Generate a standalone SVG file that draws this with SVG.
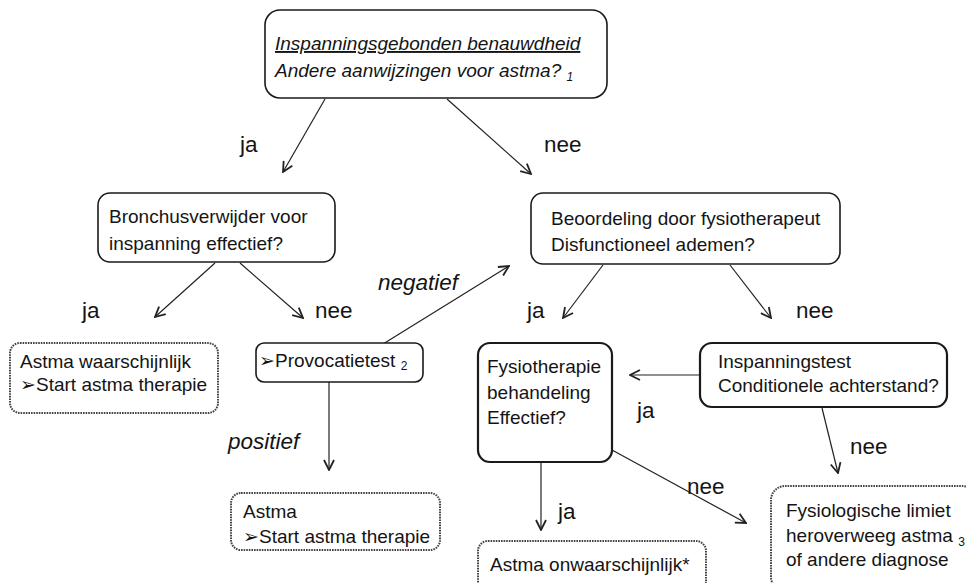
<svg xmlns="http://www.w3.org/2000/svg" width="966" height="583" viewBox="0 0 966 583">
<style>
text{font-family:"Liberation Sans",Arial,sans-serif;fill:#141414;font-size:19px}
.lbl{font-size:22.5px}
.it{font-style:italic}
.sub{font-size:12px}
.box{fill:#fff;stroke:#1a1a1a;stroke-width:1.6}
.thick{stroke-width:2.2}
.dot{fill:#fff;stroke:#444;stroke-width:2;stroke-dasharray:1.6 1}
.con{stroke:#222;stroke-width:1.2;fill:none;marker-end:url(#ah)}
</style>
<defs>
<marker id="ah" viewBox="0 0 12 12" refX="11" refY="6" markerWidth="12" markerHeight="12" markerUnits="userSpaceOnUse" orient="auto">
<polyline points="1,1 11,6 1,11" fill="none" stroke="#222" stroke-width="1.8"/>
</marker>
</defs>
<rect width="966" height="583" fill="#fff"/>
<g id="connectors">
<line class="con" x1="325" y1="99" x2="283" y2="172"/>
<line class="con" x1="447" y1="99" x2="531" y2="174"/>
<line class="con" x1="215" y1="263" x2="155" y2="317"/>
<line class="con" x1="240" y1="263" x2="303" y2="318"/>
<line class="con" x1="383" y1="344" x2="509" y2="266"/>
<line class="con" x1="603" y1="265" x2="563" y2="318"/>
<line class="con" x1="730" y1="265" x2="771" y2="318"/>
<line class="con" x1="329" y1="382" x2="329" y2="470"/>
<line class="con" x1="700" y1="375" x2="630" y2="375"/>
<line class="con" x1="822" y1="408" x2="838" y2="473"/>
<line class="con" x1="612" y1="450" x2="746" y2="523"/>
<line class="con" x1="541" y1="462" x2="541" y2="530"/>
<text class="lbl" x="240" y="152">ja</text>
<text class="lbl" x="544" y="152">nee</text>
<text class="lbl" x="82" y="318">ja</text>
<text class="lbl" x="315" y="318">nee</text>
<text class="lbl it" x="378" y="290">negatief</text>
<text class="lbl" x="527" y="318">ja</text>
<text class="lbl" x="796" y="318">nee</text>
<text class="lbl it" x="228" y="449">positief</text>
<text class="lbl" x="637" y="418">ja</text>
<text class="lbl" x="850" y="454">nee</text>
<text class="lbl" x="687" y="494">nee</text>
<text class="lbl" x="558" y="519">ja</text>
</g>
<g id="n-top">
<rect class="box" x="265" y="10" width="342" height="88" rx="15"/>
<text class="it" x="275" y="50" text-decoration="underline">Inspanningsgebonden benauwdheid</text>
<text class="it" x="275" y="77">Andere aanwijzingen voor astma? <tspan class="sub" dy="4">1</tspan></text>
</g>
<g id="n-broncho">
<rect class="box" x="98" y="193" width="237" height="69" rx="12"/>
<text x="109" y="223">Bronchusverwijder voor</text>
<text x="109" y="250">inspanning effectief?</text>
</g>
<g id="n-beoordeling">
<rect class="box" x="531" y="193" width="309" height="71" rx="12"/>
<text x="551" y="225">Beoordeling door fysiotherapeut</text>
<text x="551" y="251">Disfunctioneel ademen?</text>
</g>
<g id="n-astma-waarschijnlijk">
<rect class="dot" x="10" y="343" width="208" height="70" rx="10"/>
<text x="20" y="368">Astma waarschijnlijk</text>
<text x="20" y="391">➢Start astma therapie</text>
</g>
<g id="n-provocatie">
<rect class="box" x="256" y="343" width="167" height="39" rx="8"/>
<text x="259" y="367">➢Provocatietest <tspan class="sub" dy="3">2</tspan></text>
</g>
<g id="n-fysio">
<rect class="box thick" x="478" y="343" width="134" height="119" rx="12"/>
<text x="487" y="373">Fysiotherapie</text>
<text x="487" y="399">behandeling</text>
<text x="487" y="424">Effectief?</text>
</g>
<g id="n-inspanningstest">
<rect class="box thick" x="700" y="343" width="247" height="64" rx="12"/>
<text x="718" y="368">Inspanningstest</text>
<text x="718" y="392">Conditionele achterstand?</text>
</g>
<g id="n-astma">
<rect class="dot" x="231" y="493" width="209" height="57" rx="10"/>
<text x="243" y="518">Astma</text>
<text x="243" y="543">➢Start astma therapie</text>
</g>
<g id="n-onwaarschijnlijk">
<rect class="dot" x="478" y="541" width="228" height="50" rx="10"/>
<text x="490" y="571">Astma onwaarschijnlijk*</text>
</g>
<g id="n-fysiologisch">
<rect class="dot" x="771" y="486" width="205" height="105" rx="14"/>
<text x="786" y="517">Fysiologische limiet</text>
<text x="786" y="542">heroverweeg astma <tspan class="sub" dy="4">3</tspan></text>
<text x="786" y="566">of andere diagnose</text>
</g>
</svg>
